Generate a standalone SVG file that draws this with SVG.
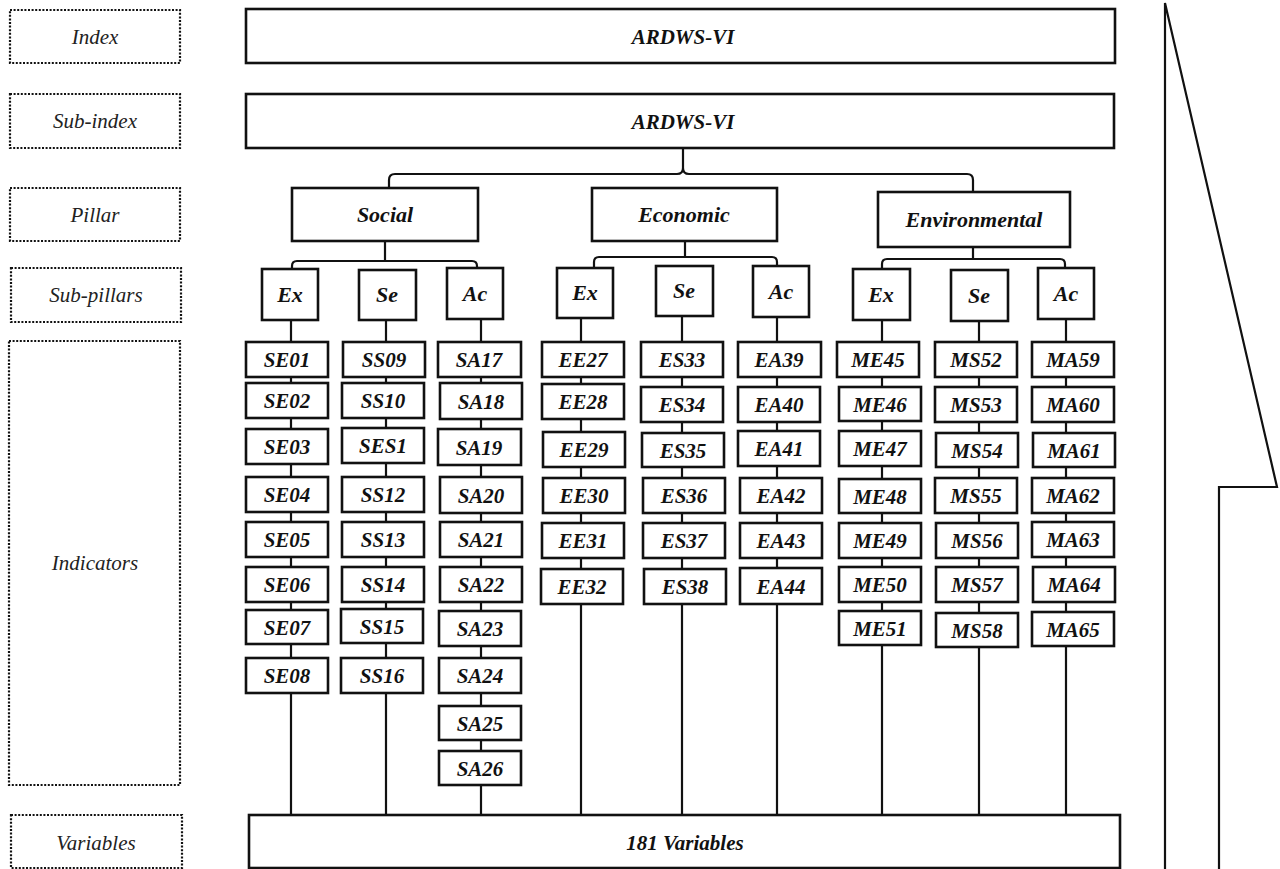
<svg xmlns="http://www.w3.org/2000/svg" width="1280" height="869" viewBox="0 0 1280 869">
<style>
.bg{fill:#fff}
.lvl{fill:#fff;stroke:#111;stroke-width:2.2;stroke-dasharray:2 1.6}
.lvt{font-family:"Liberation Serif","Times New Roman","DejaVu Serif",serif;font-style:italic;font-size:21px;fill:#222;text-anchor:middle}
.box{fill:#fff;stroke:#111;stroke-width:2.6}
.t{font-family:"Liberation Serif","Times New Roman","DejaVu Serif",serif;font-style:italic;font-weight:bold;fill:#111;text-anchor:middle}
.big{font-size:21px}
.pil{font-size:22px}
.ind{font-size:21px}
.con{fill:none;stroke:#111;stroke-width:2.2}
</style>
<rect class="bg" x="0" y="0" width="1280" height="869"/>

<g id="levels">
  <g id="lvl-index"><rect class="lvl" x="10" y="10" width="170" height="53"/><text class="lvt" x="95" y="44">Index</text></g>
  <g id="lvl-subindex"><rect class="lvl" x="10" y="94" width="170" height="54"/><text class="lvt" x="95" y="128">Sub-index</text></g>
  <g id="lvl-pillar"><rect class="lvl" x="10" y="188" width="170" height="53"/><text class="lvt" x="95" y="222">Pillar</text></g>
  <g id="lvl-subpillars"><rect class="lvl" x="11" y="268" width="170" height="54"/><text class="lvt" x="96" y="302">Sub-pillars</text></g>
  <g id="lvl-indicators"><rect class="lvl" x="9" y="341" width="171" height="444"/><text class="lvt" x="95" y="570">Indicators</text></g>
  <g id="lvl-variables"><rect class="lvl" x="11" y="815" width="171" height="53"/><text class="lvt" x="96" y="850">Variables</text></g>
</g>

<g id="connectors" class="con">
  <path d="M389,188 V180 Q389,174 395,174 H677 Q683,174 683,168 V148 M683,168 Q683,174 689,174 H967 Q973,174 973,180 V192"/>
  <path d="M385,241 V261 M292,269 V266 Q292,261 297,261 H472 Q477,261 477,266 V268"/>
  <path d="M685,241 V257 M594,268 V262 Q594,257 599,257 H772 Q777,257 777,262 V266"/>
  <path d="M973,247 V259 M882,269 V264 Q882,259 887,259 H1060 Q1065,259 1065,264 V268"/>
  <path d="M291,320 V815 M386,320 V815 M481,319 V815 M581,318 V815 M682,316 V815 M777,317 V815 M882,320 V815 M979,321 V815 M1066,319 V815"/>
  <path d="M1165,869 V3 L1277,487 H1219 V869"/>
</g>

<g id="index"><rect class="box" x="246" y="9" width="869" height="54"/><text class="t big" x="683" y="44">ARDWS-VI</text></g>
<g id="subindex"><rect class="box" x="246" y="94" width="868" height="54"/><text class="t big" x="683" y="129">ARDWS-VI</text></g>

<g id="pillar-social"><rect class="box" x="292" y="188" width="186" height="53"/><text class="t pil" x="385" y="222">Social</text></g>
<g id="pillar-economic"><rect class="box" x="592" y="188" width="185" height="53"/><text class="t pil" x="684" y="222">Economic</text></g>
<g id="pillar-environmental"><rect class="box" x="878" y="192" width="192" height="55"/><text class="t pil" x="974" y="227">Environmental</text></g>

<g id="sp-social-ex"><rect class="box" x="262" y="269" width="56" height="51"/><text class="t pil" x="290" y="302">Ex</text></g>
<g id="sp-social-se"><rect class="box" x="359" y="270" width="57" height="50"/><text class="t pil" x="387" y="302">Se</text></g>
<g id="sp-social-ac"><rect class="box" x="447" y="268" width="56" height="51"/><text class="t pil" x="475" y="301">Ac</text></g>
<g id="sp-econ-ex"><rect class="box" x="557" y="268" width="56" height="50"/><text class="t pil" x="585" y="300">Ex</text></g>
<g id="sp-econ-se"><rect class="box" x="656" y="266" width="57" height="50"/><text class="t pil" x="684" y="298">Se</text></g>
<g id="sp-econ-ac"><rect class="box" x="753" y="266" width="56" height="51"/><text class="t pil" x="781" y="299">Ac</text></g>
<g id="sp-env-ex"><rect class="box" x="853" y="269" width="57" height="51"/><text class="t pil" x="881" y="302">Ex</text></g>
<g id="sp-env-se"><rect class="box" x="951" y="270" width="57" height="51"/><text class="t pil" x="979" y="303">Se</text></g>
<g id="sp-env-ac"><rect class="box" x="1038" y="268" width="56" height="51"/><text class="t pil" x="1066" y="301">Ac</text></g>

<g id="ind-SE01"><rect class="box" x="246" y="342" width="82" height="35"/><text class="t ind" x="287" y="367">SE01</text></g>
<g id="ind-SE02"><rect class="box" x="246" y="383" width="82" height="35"/><text class="t ind" x="287" y="408">SE02</text></g>
<g id="ind-SE03"><rect class="box" x="246" y="429" width="82" height="35"/><text class="t ind" x="287" y="454">SE03</text></g>
<g id="ind-SE04"><rect class="box" x="246" y="477" width="82" height="35"/><text class="t ind" x="287" y="502">SE04</text></g>
<g id="ind-SE05"><rect class="box" x="246" y="522" width="82" height="35"/><text class="t ind" x="287" y="547">SE05</text></g>
<g id="ind-SE06"><rect class="box" x="246" y="567" width="82" height="35"/><text class="t ind" x="287" y="592">SE06</text></g>
<g id="ind-SE07"><rect class="box" x="246" y="610" width="82" height="34"/><text class="t ind" x="287" y="635">SE07</text></g>
<g id="ind-SE08"><rect class="box" x="246" y="658" width="82" height="35"/><text class="t ind" x="287" y="683">SE08</text></g>

<g id="ind-SS09"><rect class="box" x="343" y="342" width="82" height="35"/><text class="t ind" x="384" y="367">SS09</text></g>
<g id="ind-SS10"><rect class="box" x="342" y="383" width="82" height="35"/><text class="t ind" x="383" y="408">SS10</text></g>
<g id="ind-SES1"><rect class="box" x="342" y="428" width="82" height="35"/><text class="t ind" x="383" y="453">SES1</text></g>
<g id="ind-SS12"><rect class="box" x="342" y="477" width="82" height="35"/><text class="t ind" x="383" y="502">SS12</text></g>
<g id="ind-SS13"><rect class="box" x="342" y="522" width="82" height="35"/><text class="t ind" x="383" y="547">SS13</text></g>
<g id="ind-SS14"><rect class="box" x="342" y="567" width="82" height="35"/><text class="t ind" x="383" y="592">SS14</text></g>
<g id="ind-SS15"><rect class="box" x="341" y="609" width="82" height="34"/><text class="t ind" x="382" y="634">SS15</text></g>
<g id="ind-SS16"><rect class="box" x="341" y="658" width="82" height="35"/><text class="t ind" x="382" y="683">SS16</text></g>

<g id="ind-SA17"><rect class="box" x="438" y="342" width="83" height="35"/><text class="t ind" x="479" y="367">SA17</text></g>
<g id="ind-SA18"><rect class="box" x="440" y="383" width="82" height="36"/><text class="t ind" x="481" y="409">SA18</text></g>
<g id="ind-SA19"><rect class="box" x="438" y="429" width="83" height="36"/><text class="t ind" x="479" y="455">SA19</text></g>
<g id="ind-SA20"><rect class="box" x="440" y="477" width="82" height="36"/><text class="t ind" x="481" y="503">SA20</text></g>
<g id="ind-SA21"><rect class="box" x="440" y="522" width="82" height="35"/><text class="t ind" x="481" y="547">SA21</text></g>
<g id="ind-SA22"><rect class="box" x="440" y="567" width="82" height="35"/><text class="t ind" x="481" y="592">SA22</text></g>
<g id="ind-SA23"><rect class="box" x="439" y="611" width="82" height="35"/><text class="t ind" x="480" y="636">SA23</text></g>
<g id="ind-SA24"><rect class="box" x="439" y="658" width="82" height="35"/><text class="t ind" x="480" y="683">SA24</text></g>
<g id="ind-SA25"><rect class="box" x="439" y="706" width="82" height="34"/><text class="t ind" x="480" y="731">SA25</text></g>
<g id="ind-SA26"><rect class="box" x="439" y="751" width="82" height="34"/><text class="t ind" x="480" y="776">SA26</text></g>

<g id="ind-EE27"><rect class="box" x="542" y="342" width="82" height="35"/><text class="t ind" x="583" y="367">EE27</text></g>
<g id="ind-EE28"><rect class="box" x="542" y="384" width="82" height="35"/><text class="t ind" x="583" y="409">EE28</text></g>
<g id="ind-EE29"><rect class="box" x="543" y="432" width="82" height="35"/><text class="t ind" x="584" y="457">EE29</text></g>
<g id="ind-EE30"><rect class="box" x="543" y="478" width="82" height="35"/><text class="t ind" x="584" y="503">EE30</text></g>
<g id="ind-EE31"><rect class="box" x="542" y="523" width="82" height="35"/><text class="t ind" x="583" y="548">EE31</text></g>
<g id="ind-EE32"><rect class="box" x="541" y="569" width="82" height="35"/><text class="t ind" x="582" y="594">EE32</text></g>

<g id="ind-ES33"><rect class="box" x="641" y="342" width="82" height="35"/><text class="t ind" x="682" y="367">ES33</text></g>
<g id="ind-ES34"><rect class="box" x="641" y="387" width="82" height="35"/><text class="t ind" x="682" y="412">ES34</text></g>
<g id="ind-ES35"><rect class="box" x="642" y="433" width="82" height="34"/><text class="t ind" x="683" y="458">ES35</text></g>
<g id="ind-ES36"><rect class="box" x="643" y="478" width="82" height="35"/><text class="t ind" x="684" y="503">ES36</text></g>
<g id="ind-ES37"><rect class="box" x="643" y="523" width="82" height="35"/><text class="t ind" x="684" y="548">ES37</text></g>
<g id="ind-ES38"><rect class="box" x="644" y="569" width="82" height="35"/><text class="t ind" x="685" y="594">ES38</text></g>

<g id="ind-EA39"><rect class="box" x="738" y="342" width="83" height="35"/><text class="t ind" x="779" y="367">EA39</text></g>
<g id="ind-EA40"><rect class="box" x="738" y="387" width="82" height="35"/><text class="t ind" x="779" y="412">EA40</text></g>
<g id="ind-EA41"><rect class="box" x="738" y="431" width="82" height="35"/><text class="t ind" x="779" y="456">EA41</text></g>
<g id="ind-EA42"><rect class="box" x="740" y="478" width="82" height="35"/><text class="t ind" x="781" y="503">EA42</text></g>
<g id="ind-EA43"><rect class="box" x="740" y="523" width="82" height="35"/><text class="t ind" x="781" y="548">EA43</text></g>
<g id="ind-EA44"><rect class="box" x="740" y="568" width="82" height="36"/><text class="t ind" x="781" y="594">EA44</text></g>

<g id="ind-ME45"><rect class="box" x="837" y="342" width="82" height="35"/><text class="t ind" x="878" y="367">ME45</text></g>
<g id="ind-ME46"><rect class="box" x="839" y="387" width="82" height="34"/><text class="t ind" x="880" y="412">ME46</text></g>
<g id="ind-ME47"><rect class="box" x="839" y="431" width="82" height="35"/><text class="t ind" x="880" y="456">ME47</text></g>
<g id="ind-ME48"><rect class="box" x="839" y="479" width="82" height="34"/><text class="t ind" x="880" y="504">ME48</text></g>
<g id="ind-ME49"><rect class="box" x="839" y="523" width="82" height="35"/><text class="t ind" x="880" y="548">ME49</text></g>
<g id="ind-ME50"><rect class="box" x="839" y="567" width="82" height="35"/><text class="t ind" x="880" y="592">ME50</text></g>
<g id="ind-ME51"><rect class="box" x="839" y="611" width="82" height="34"/><text class="t ind" x="880" y="636">ME51</text></g>

<g id="ind-MS52"><rect class="box" x="935" y="342" width="82" height="35"/><text class="t ind" x="976" y="367">MS52</text></g>
<g id="ind-MS53"><rect class="box" x="935" y="387" width="82" height="35"/><text class="t ind" x="976" y="412">MS53</text></g>
<g id="ind-MS54"><rect class="box" x="936" y="433" width="82" height="34"/><text class="t ind" x="977" y="458">MS54</text></g>
<g id="ind-MS55"><rect class="box" x="935" y="478" width="82" height="35"/><text class="t ind" x="976" y="503">MS55</text></g>
<g id="ind-MS56"><rect class="box" x="936" y="523" width="82" height="35"/><text class="t ind" x="977" y="548">MS56</text></g>
<g id="ind-MS57"><rect class="box" x="936" y="567" width="82" height="35"/><text class="t ind" x="977" y="592">MS57</text></g>
<g id="ind-MS58"><rect class="box" x="936" y="613" width="82" height="34"/><text class="t ind" x="977" y="638">MS58</text></g>

<g id="ind-MA59"><rect class="box" x="1032" y="342" width="82" height="35"/><text class="t ind" x="1073" y="367">MA59</text></g>
<g id="ind-MA60"><rect class="box" x="1032" y="387" width="82" height="35"/><text class="t ind" x="1073" y="412">MA60</text></g>
<g id="ind-MA61"><rect class="box" x="1033" y="433" width="82" height="34"/><text class="t ind" x="1074" y="458">MA61</text></g>
<g id="ind-MA62"><rect class="box" x="1032" y="478" width="82" height="35"/><text class="t ind" x="1073" y="503">MA62</text></g>
<g id="ind-MA63"><rect class="box" x="1032" y="522" width="82" height="35"/><text class="t ind" x="1073" y="547">MA63</text></g>
<g id="ind-MA64"><rect class="box" x="1033" y="567" width="82" height="35"/><text class="t ind" x="1074" y="592">MA64</text></g>
<g id="ind-MA65"><rect class="box" x="1032" y="612" width="82" height="34"/><text class="t ind" x="1073" y="637">MA65</text></g>

<g id="variables"><rect class="box" x="249" y="815" width="871" height="53"/><text class="t big" x="685" y="850">181 Variables</text></g>
</svg>
